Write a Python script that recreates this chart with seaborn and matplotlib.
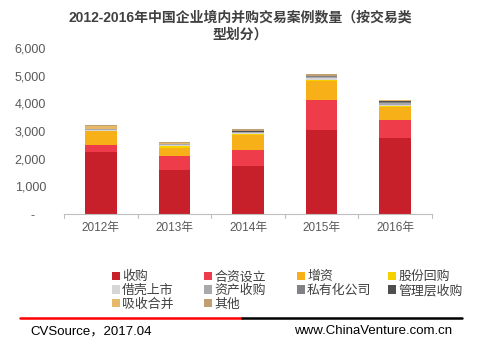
import matplotlib
matplotlib.use("Agg")
import matplotlib.pyplot as plt
import matplotlib.patches as mpatches
import matplotlib.lines as mlines
import seaborn as sns
import numpy as np

years = ["2012年", "2013年", "2014年", "2015年", "2016年"]
series_names = ["收购", "合资设立", "增资", "股份回购", "借壳上市", "资产收购",
                "私有化公司", "管理层收购", "吸收合并", "其他"]
shougou   = [2250, 1600, 1745, 3030, 2730]
hezi      = [250, 510, 585, 1090, 660]
zengzi    = [500, 290, 540, 670, 490]
huigou    = [5, 60, 20, 50, 30]
jieke     = [15, 25, 30, 60, 40]
zichan    = [45, 30, 40, 40, 60]
siyouhua  = [5, 15, 10, 30, 40]
mbo       = [10, 10, 15, 10, 20]
xishou    = [90, 20, 20, 20, 40]
qita      = [30, 40, 50, 50, 20]
all_series = [shougou, hezi, zengzi, huigou, jieke, zichan, siyouhua, mbo, xishou, qita]
colors = ["#C8202A", "#EE3C4A", "#F8B019", "#F5D100", "#D6D6D6", "#A9A9AD",
          "#828286", "#4E4E50", "#E6B86A", "#C0A070"]
yticks = [0, 1000, 2000, 3000, 4000, 5000, 6000]

sns.set_theme(style="white")
plt.rcParams['font.family'] = ['Liberation Sans', 'Noto Sans CJK SC', 'DejaVu Sans']

fig = plt.figure(figsize=(4.8, 3.45), dpi=100)
ax = fig.add_axes([64/480, 1-214/345, (432-64)/480, (214-48)/345])

bottom = np.zeros(len(years))
for vals, c in zip(all_series, colors):
    sns.barplot(x=years, y=vals, bottom=bottom, color=c, width=0.43, ax=ax,
                saturation=1, linewidth=0)
    bottom = bottom + np.array(vals)

ax.set_ylim(0, 6000)
ax.set_xlim(-0.5, 4.5)
ax.set_yticks(yticks)
ax.set_yticklabels(['-   ' if v == 0 else f'{v:,}' for v in yticks],
                   fontsize=9, color="#595959")
ax.tick_params(axis='y', length=0, pad=13)
ax.set_xticks(range(len(years)))
ax.set_xticklabels(years, fontsize=8.5, color="#595959")
ax.tick_params(axis='x', length=0, pad=6)
for b in np.arange(-0.5, 5, 1.0):
    ax.plot([b, b], [0, -0.025], transform=ax.get_xaxis_transform(),
            color="#BFBFBF", lw=0.8, clip_on=False)
for s in ["top", "right", "left"]:
    ax.spines[s].set_visible(False)
ax.spines["bottom"].set_color("#BFBFBF")
ax.spines["bottom"].set_linewidth(0.8)
ax.set_xlabel("")
ax.set_ylabel("")
ax.grid(False)

fig.text(0.5, 1-17/345, "2012-2016年中国企业境内并购交易案例数量（按交易类",
         ha="center", va="center", fontsize=10, fontweight="bold", color="#404040",
         family=['Liberation Sans', 'Noto Sans CJK SC'])
fig.text(0.5, 1-35/345, "型划分）", ha="center", va="center", fontsize=10,
         fontweight="bold", color="#404040", family=['Noto Sans CJK SC'])

handles = [mpatches.Patch(facecolor=c, edgecolor='none', label=n)
           for n, c in zip(series_names, colors)]
col_x = [106, 198, 291, 382]
for ci, cx in enumerate(col_x):
    hs = [handles[i] for i in range(ci, len(handles), 4)]
    leg = fig.legend(handles=hs, ncol=1, loc="upper left",
                     bbox_to_anchor=(cx/480, 1-264/345), frameon=False,
                     handlelength=0.6, handleheight=0.6, borderpad=0,
                     handletextpad=0.15, labelspacing=0.05,
                     prop={'family': 'Noto Sans CJK SC', 'size': 9.3})
    for t in leg.get_texts():
        t.set_color("#404040")

fig.add_artist(mlines.Line2D([20/480, 242/480], [1-318/345]*2, color="#FF0000", lw=1.8))
fig.add_artist(mlines.Line2D([242/480, 462/480], [1-318/345]*2, color="#000000", lw=1.8))
fig.text(30/480, 1-331/345, "CVSource，2017.04", ha="left", va="center",
         fontsize=9.5, color="#000000", family=['Liberation Sans', 'Noto Sans CJK SC'])
fig.text(452/480, 1-331/345, "www.ChinaVenture.com.cn", ha="right", va="center",
         fontsize=9.5, color="#000000")

fig.savefig("out.png", dpi=100)
